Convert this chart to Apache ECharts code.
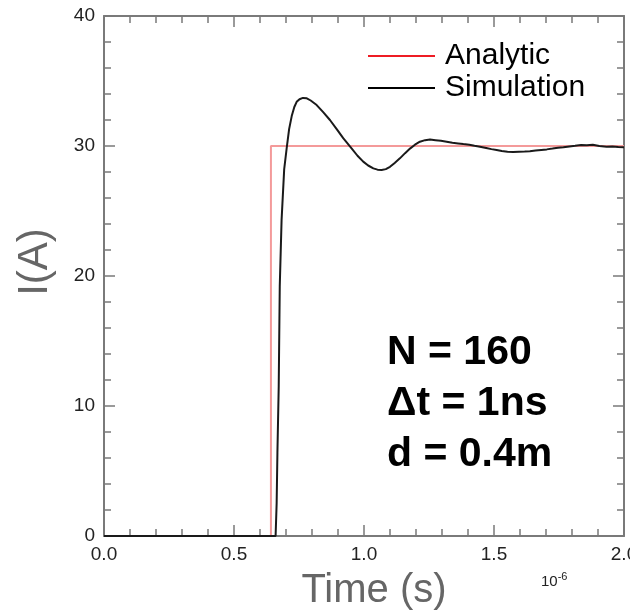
<!DOCTYPE html>
<html>
<head>
<meta charset="utf-8">
<title>Current step response</title>
<script src="https://cdn.jsdelivr.net/npm/echarts@6/dist/echarts.min.js"></script>
<style>
  html, body { margin: 0; padding: 0; background: #ffffff; overflow: hidden; }
  #chart { width: 630px; height: 615px; }
</style>
</head>
<body>
<div id="chart"></div>
<script>
// Time in units of 1e-6 s, current in A
const seriesNames = ['Analytic', 'Simulation'];

// Ideal step: switches on at t = 0.642 us to 30 A
const analyticT = [0.0, 0.642, 0.642, 2.0];
const analyticI = [0, 0, 30, 30];

// Simulated current
const simT = [0.0, 0.660, 0.664, 0.667, 0.672, 0.676, 0.683, 0.693, 0.703, 0.712,
  0.722, 0.732, 0.741, 0.752, 0.765, 0.780, 0.795, 0.818, 0.843, 0.869,
  0.895, 0.920, 0.953, 0.975, 0.997, 1.016, 1.036, 1.052, 1.068, 1.084,
  1.100, 1.118, 1.138, 1.158, 1.177, 1.196, 1.215, 1.235, 1.254, 1.275,
  1.296, 1.318, 1.340, 1.362, 1.382, 1.405, 1.425, 1.446, 1.470, 1.490,
  1.510, 1.530, 1.552, 1.574, 1.596, 1.618, 1.638, 1.660, 1.682, 1.703,
  1.725, 1.746, 1.767, 1.790, 1.812, 1.835, 1.857, 1.880, 1.905, 1.933,
  1.955, 1.978, 2.0];
const simI = [0, 0, 2.5, 6.4, 11.5, 19.2, 24.3, 28.2, 29.9, 31.3,
  32.3, 33.0, 33.4, 33.6, 33.7, 33.67, 33.5, 33.15, 32.6, 32.0,
  31.3, 30.6, 29.8, 29.25, 28.8, 28.5, 28.28, 28.18, 28.15, 28.22,
  28.4, 28.7, 29.05, 29.45, 29.8, 30.1, 30.33, 30.45, 30.5, 30.45,
  30.4, 30.33, 30.25, 30.2, 30.15, 30.1, 30.02, 29.95, 29.85, 29.76,
  29.7, 29.62, 29.56, 29.54, 29.56, 29.57, 29.6, 29.65, 29.7, 29.74,
  29.8, 29.86, 29.9, 29.97, 30.02, 30.08, 30.05, 30.1, 30.0, 29.95,
  29.97, 29.92, 29.9];

// Axis ticks
const xTickLabels = ['0.0', '0.5', '1.0', '1.5', '2.0'];
const yTickLabels = ['0', '10', '20', '30', '40'];

const analyticData = analyticT.map((t, i) => [t, analyticI[i]]);
const simData = simT.map((t, i) => [t, simI[i]]);

const axisGray = '#7a7a7a';
const labelFont = 'Liberation Sans, Arial, Helvetica, sans-serif';

// Shared styling for the four sides of the frame; ticks point into the plot
function frameAxis(extra) {
  return Object.assign({
    axisLine: { show: true, onZero: false, lineStyle: { color: axisGray, width: 2 } },
    axisTick: { show: true, inside: true, length: 11, lineStyle: { color: axisGray, width: 1.5 } },
    minorTick: { show: true, splitNumber: 5, length: 7, lineStyle: { color: axisGray, width: 1.5 } },
    splitLine: { show: false },
    minorSplitLine: { show: false }
  }, extra);
}

const chart = echarts.init(document.getElementById('chart'), null, { renderer: 'canvas' });

chart.setOption({
  backgroundColor: '#ffffff',
  animation: false,
  grid: { left: 104, right: 6, top: 16, bottom: 79, containLabel: false, outerBoundsMode: 'none' },
  xAxis: [
    frameAxis({
      type: 'value', position: 'bottom', min: 0, max: 2, interval: 0.5,
      axisLabel: {
        show: true, margin: 9, color: '#222222', fontSize: 19, fontFamily: labelFont,
        formatter: v => xTickLabels[Math.round(v / 0.5)]
      }
    }),
    frameAxis({
      type: 'value', position: 'top', min: 0, max: 2, interval: 0.5,
      axisLabel: { show: false }
    })
  ],
  yAxis: [
    frameAxis({
      type: 'value', position: 'left', min: 0, max: 40, interval: 10,
      axisLabel: {
        show: true, margin: 9, color: '#222222', fontSize: 19, fontFamily: labelFont,
        formatter: v => yTickLabels[Math.round(v / 10)]
      }
    }),
    frameAxis({
      type: 'value', position: 'right', min: 0, max: 40, interval: 10,
      axisLabel: { show: false }
    })
  ],
  legend: {
    orient: 'vertical',
    left: 363,
    top: 35,
    itemWidth: 67,
    itemHeight: 16,
    itemGap: 0,
    textStyle: {
      fontSize: 30, fontFamily: labelFont, color: '#000000',
      lineHeight: 32, padding: [0, 0, 0, 5]
    },
    data: [
      { name: seriesNames[0], icon: 'path://M0,7 L67,7 L67,9 L0,9 Z', itemStyle: { color: '#ee1c24' } },
      { name: seriesNames[1], icon: 'path://M0,7 L67,7 L67,9 L0,9 Z', itemStyle: { color: '#000000' } }
    ]
  },
  series: [
    {
      name: seriesNames[0], type: 'line', data: analyticData,
      xAxisIndex: 0, yAxisIndex: 0,
      symbol: 'none', clip: true,
      lineStyle: { color: '#f49a9a', width: 2 },
      itemStyle: { color: '#ee1c24' },
      z: 2
    },
    {
      name: seriesNames[1], type: 'line', data: simData,
      xAxisIndex: 0, yAxisIndex: 0,
      symbol: 'none', clip: true,
      lineStyle: { color: '#1a1a1a', width: 2 },
      itemStyle: { color: '#000000' },
      z: 3
    }
  ],
  graphic: [
    {
      type: 'text', x: 35, y: 262, rotation: Math.PI / 2,
      style: { text: 'I(A)', fill: '#666666', font: '42px ' + labelFont, align: 'center', verticalAlign: 'middle' }
    },
    {
      type: 'text', x: 374, y: 591,
      style: { text: 'Time (s)', fill: '#666666', font: '40px ' + labelFont, align: 'center', verticalAlign: 'middle' }
    },
    {
      type: 'text', x: 541, y: 571,
      style: {
        text: '{b|10}{s|-6}',
        rich: {
          b: { fontSize: 15, fontFamily: labelFont, fill: '#222222', verticalAlign: 'bottom', lineHeight: 18 },
          s: { fontSize: 11, fontFamily: labelFont, fill: '#222222', verticalAlign: 'top', lineHeight: 18, padding: [0, 0, 8, 0] }
        }
      }
    },
    {
      type: 'text', x: 387, y: 327,
      style: {
        text: 'N = 160\nΔt = 1ns\nd = 0.4m',
        fill: '#000000', font: 'bold 41px ' + labelFont, lineHeight: 51, align: 'left', verticalAlign: 'top'
      }
    }
  ]
});
</script>
</body>
</html>
